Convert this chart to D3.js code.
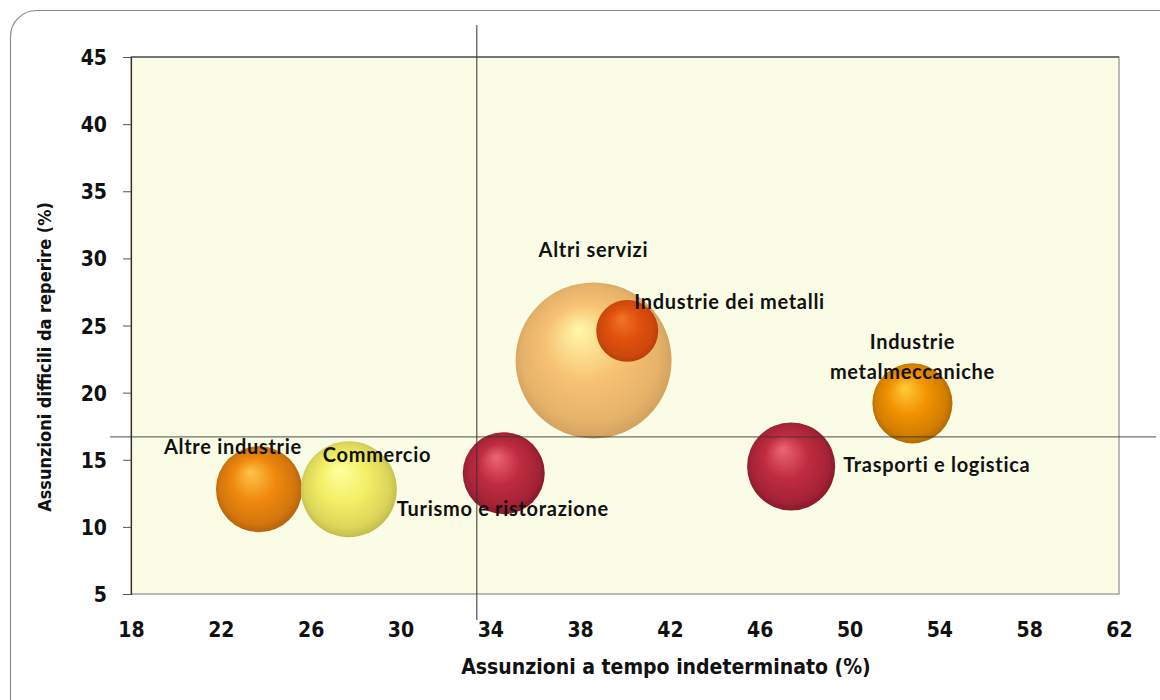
<!DOCTYPE html>
<html>
<head>
<meta charset="utf-8">
<script src="https://cdn.jsdelivr.net/npm/d3@7"></script>
<style>
  html, body { margin: 0; padding: 0; background: #fff; }
  svg { display: block; }
  .tick-lab { font-family: "DejaVu Sans Condensed", "DejaVu Sans", sans-serif; font-stretch: condensed; font-weight: bold; font-size: 21px; fill: #111; }
  .axis-title { font-family: "DejaVu Sans Condensed", "DejaVu Sans", sans-serif; font-stretch: condensed; font-weight: bold; fill: #111; }
  .bubble-lab { font-family: Lato, "Open Sans", sans-serif; font-weight: bold; font-size: 20px; letter-spacing: 0.7px; fill: #111; }
</style>
</head>
<body>
<div id="chart"></div>
<script>
// Sectors and values
const sectors = ['Altre industrie', 'Commercio', 'Turismo e ristorazione', 'Altri servizi',
                 'Industrie dei metalli', 'Industrie metalmeccaniche', 'Trasporti e logistica'];
const permanentPct = [23.7, 27.7, 34.6, 38.6, 40.1, 52.8, 47.4];   // x
const hardToFindPct = [12.8, 12.8, 14.0, 22.4, 24.6, 19.2, 14.5];  // y
const bubbleSize = [1850, 2300, 1680, 6080, 960, 1600, 1940];      // bubble area
const xTicks = [18, 22, 26, 30, 34, 38, 42, 46, 50, 54, 58, 62];
const yTicks = [5, 10, 15, 20, 25, 30, 35, 40, 45];
const refX = 33.4;   // vertical reference line
const refY = 16.7;   // horizontal reference line

// colours: [highlight, base, shade]
const ballColors = [
    ['#ffc44a', '#f0890e', '#a85a08'],
    ['#ffffa0', '#f3ef66', '#b8b048'],
    ['#ec6676', '#c02c40', '#7c1626'],
    ['#fff8a8', '#f8c274', '#c89a5a'],
    ['#f27428', '#e0520e', '#b03a04'],
    ['#ffcc3c', '#f29200', '#a26006'],
    ['#ec6676', '#c02c40', '#7c1626']
];

// label placement relative to bubble centre
const labelPlace = [
    { dx: -95, dy: -35, anchor: 'start' },
    { dx: -26, dy: -27, anchor: 'start' },
    { dx: -107, dy: 43, anchor: 'start' },
    { dx: -55, dy: -103, anchor: 'start' },
    { dx: 7, dy: -22, anchor: 'start' },
    { dx: 0, dy: -54, anchor: 'middle', lines: ['Industrie', 'metalmeccaniche'] },
    { dx: 52, dy: 6, anchor: 'start' }
];

const W = 1160, H = 700;
const plot = { left: 131, right: 1119, top: 57, bottom: 594 };

const svg = d3.select('#chart').append('svg').attr('width', W).attr('height', H);
const defs = svg.append('defs');

// outer frame
svg.append('rect')
    .attr('x', 10.5).attr('y', 10.5)
    .attr('width', 1200).attr('height', 760)
    .attr('rx', 26)
    .attr('fill', '#fff').attr('stroke', '#8a8a8a').attr('stroke-width', 1.2);

const x = d3.scaleLinear().domain([18, 62]).range([plot.left, plot.right]);
const y = d3.scaleLinear().domain([5, 45]).range([plot.bottom, plot.top]);
const r = d3.scaleSqrt().domain([0, d3.max(bubbleSize)]).range([0, 78]);

// plot area
svg.append('rect')
    .attr('x', plot.left).attr('y', plot.top)
    .attr('width', plot.right - plot.left).attr('height', plot.bottom - plot.top)
    .attr('fill', '#fbfce6').attr('stroke', '#8c8c8c').attr('stroke-width', 1.2);
svg.append('line')
    .attr('x1', plot.left).attr('x2', plot.right)
    .attr('y1', plot.top).attr('y2', plot.top)
    .attr('stroke', '#333').attr('stroke-width', 1.2);

// y axis
const yAxis = svg.append('g')
    .attr('transform', `translate(${plot.left},0)`)
    .call(d3.axisLeft(y).tickValues(yTicks).tickSize(8).tickPadding(16));
yAxis.select('.domain').attr('stroke', '#333').attr('stroke-width', 1.2);
yAxis.selectAll('.tick line').attr('stroke', '#555');
yAxis.selectAll('text').attr('class', 'tick-lab').attr('dy', '0.36em');

// x axis (no tick marks)
const xAxis = svg.append('g')
    .attr('transform', `translate(0,${plot.bottom})`)
    .call(d3.axisBottom(x).tickValues(xTicks).tickSize(0).tickPadding(28));
xAxis.select('.domain').remove();
xAxis.selectAll('text').attr('class', 'tick-lab');

// axis titles
svg.append('text').attr('class', 'axis-title')
    .attr('x', 666).attr('y', 674)
    .attr('text-anchor', 'middle').attr('font-size', 21)
    .text('Assunzioni a tempo indeterminato (%)');
svg.append('text').attr('class', 'axis-title')
    .attr('transform', 'translate(51,357) rotate(-90)')
    .attr('text-anchor', 'middle').attr('font-size', 18)
    .text('Assunzioni difficili da reperire (%)');

// bubbles
const blur = defs.append('filter').attr('id', 'soft');
blur.append('feGaussianBlur').attr('stdDeviation', 0.7);

sectors.forEach((s, i) => {
    const g = defs.append('radialGradient')
        .attr('id', 'ball' + i)
        .attr('cx', '50%').attr('cy', '50%').attr('r', '55%')
        .attr('fx', '40%').attr('fy', '30%');
    const c = ballColors[i];
    g.append('stop').attr('offset', '0%').attr('stop-color', c[0]);
    g.append('stop').attr('offset', '45%').attr('stop-color', c[1]);
    g.append('stop').attr('offset', '80%').attr('stop-color', d3.interpolateRgb(c[1], c[2])(0.4));
    g.append('stop').attr('offset', '100%').attr('stop-color', c[2]);
});

const data = sectors.map((s, i) => ({
    name: s, x: permanentPct[i], y: hardToFindPct[i], size: bubbleSize[i], i
}));

svg.append('g').selectAll('circle')
    .data(data)
    .enter().append('circle')
    .attr('cx', d => x(d.x))
    .attr('cy', d => y(d.y))
    .attr('r', d => r(d.size))
    .attr('fill', d => `url(#ball${d.i})`)
    .attr('filter', 'url(#soft)');

// reference lines
svg.append('line')
    .attr('x1', x(refX)).attr('x2', x(refX))
    .attr('y1', 25).attr('y2', 620)
    .attr('stroke', '#333').attr('stroke-opacity', 0.85).attr('stroke-width', 1.2);
svg.append('line')
    .attr('x1', 110).attr('x2', 1156)
    .attr('y1', y(refY)).attr('y2', y(refY))
    .attr('stroke', '#333').attr('stroke-opacity', 0.7).attr('stroke-width', 1.2);

// labels
data.forEach(d => {
    const p = labelPlace[d.i];
    const lines = p.lines || [d.name];
    lines.forEach((t, k) => {
        svg.append('text').attr('class', 'bubble-lab')
            .attr('x', x(d.x) + p.dx)
            .attr('y', y(d.y) + p.dy + k * 30)
            .attr('text-anchor', p.anchor)
            .text(t);
    });
});
</script>
</body>
</html>
